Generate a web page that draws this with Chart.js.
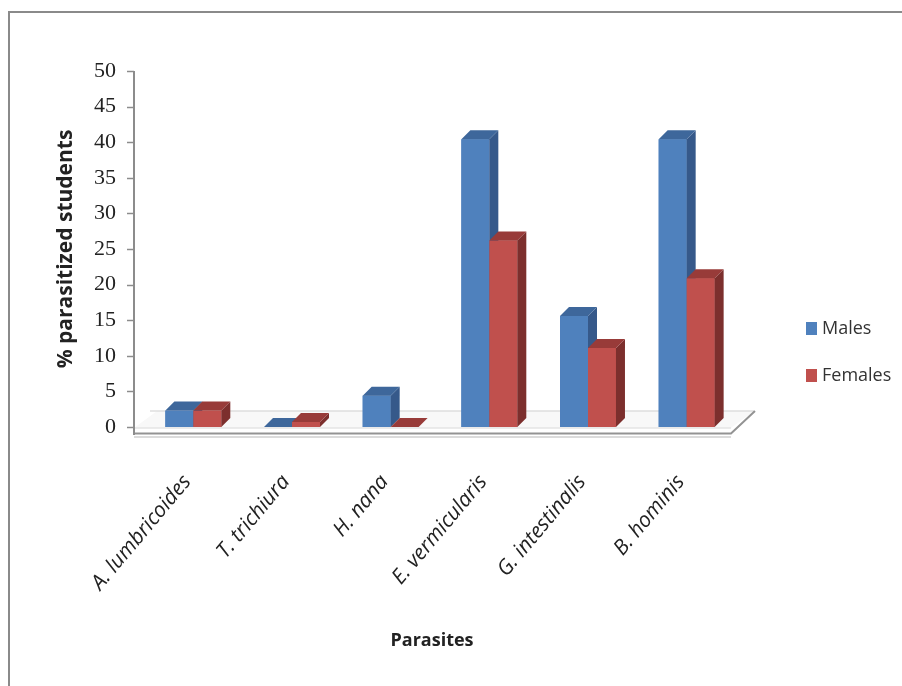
<!DOCTYPE html>
<html>
<head>
<meta charset="utf-8">
<script src="https://cdn.jsdelivr.net/npm/chart.js@4.4.0/dist/chart.umd.min.js"></script>
<style>
  html, body { margin: 0; padding: 0; background: #fff; }
  #wrap { position: relative; width: 902px; height: 686px; overflow: hidden; }
  #frame { position: absolute; left: 8px; top: 11px; width: 900px; height: 680px;
           border-top: 2px solid #8a8a8a; border-left: 2px solid #8a8a8a; box-sizing: border-box; }
  canvas { position: absolute; left: 0; top: 0; }
</style>
</head>
<body>
<div id="wrap">
  <div id="frame"></div>
  <canvas id="c" width="902" height="686"></canvas>
</div>
<script>
const categories = ['A. lumbricoides', 'T. trichiura', 'H. nana', 'E. vermicularis', 'G. intestinalis', 'B. hominis'];
const males = [2.3, 0, 4.4, 40.4, 15.6, 40.4];
const females = [2.3, 0.7, 0, 26.2, 11.1, 20.9];
const yTicksMin = 0, yTicksMax = 50, yTickStep = 5;
const xTitle = 'Parasites';

const faces = {
  Males:   { front: '#4F81BD', side: '#36598A', top: '#3E679B' },
  Females: { front: '#C0504D', side: '#7C2F2D', top: '#983B39' }
};
const DX = 9, DY = 9;

const threeD = {
  id: 'threeD',
  beforeDatasetsDraw(chart) {
    const ctx = chart.ctx, ca = chart.chartArea, y = chart.scales.y;
    const axisX = ca.left - 10;
    const base = y.getPixelForValue(0);
    const fr = ca.right - 5;
    ctx.save();
    ctx.fillStyle = '#f8f8f8';
    ctx.beginPath();
    ctx.moveTo(axisX, base + 1);
    ctx.lineTo(fr, base + 1);
    ctx.lineTo(fr + 23, base - 16);
    ctx.lineTo(axisX + 23, base - 16);
    ctx.closePath();
    ctx.fill();
    ctx.strokeStyle = '#dedede';
    ctx.lineWidth = 1.5;
    ctx.beginPath();
    ctx.moveTo(axisX + 16, base - 16);
    ctx.lineTo(fr + 23, base - 16);
    ctx.stroke();
    ctx.strokeStyle = '#e4e4e4';
    ctx.beginPath();
    ctx.moveTo(axisX, base + 1);
    ctx.lineTo(fr, base + 1);
    ctx.stroke();
    ctx.strokeStyle = '#cfcfcf';
    ctx.lineWidth = 1.5;
    ctx.beginPath();
    ctx.moveTo(axisX, base + 10);
    ctx.lineTo(fr, base + 10);
    ctx.stroke();
    ctx.strokeStyle = '#939393';
    ctx.lineWidth = 2;
    ctx.beginPath();
    ctx.moveTo(axisX, base + 6.5);
    ctx.lineTo(fr, base + 6.5);
    ctx.lineTo(fr + 24, base - 16);
    ctx.stroke();
    ctx.strokeStyle = '#8c8c8c';
    ctx.lineWidth = 2;
    ctx.beginPath();
    ctx.moveTo(axisX, y.getPixelForValue(yTicksMax));
    ctx.lineTo(axisX, base + 8);
    ctx.stroke();
    ctx.lineWidth = 1.5;
    y.ticks.forEach(t => {
      const py = Math.round(y.getPixelForValue(t.value)) + 0.5;
      ctx.beginPath();
      ctx.moveTo(axisX - 7, py);
      ctx.lineTo(axisX, py);
      ctx.stroke();
    });
    ctx.restore();
  },
  afterDatasetsDraw(chart) {
    const ctx = chart.ctx;
    ctx.save();
    chart.data.datasets.forEach((ds, i) => {
      const f = faces[ds.label];
      chart.getDatasetMeta(i).data.forEach(bar => {
        const p = bar.getProps(['x', 'y', 'base', 'width'], true);
        const l = p.x - p.width / 2, r = p.x + p.width / 2;
        ctx.fillStyle = f.front;
        ctx.fillRect(l, p.y, p.width, p.base - p.y);
        ctx.fillStyle = f.side;
        ctx.beginPath();
        ctx.moveTo(r, p.y);
        ctx.lineTo(r + DX, p.y - DY);
        ctx.lineTo(r + DX, p.base - DY);
        ctx.lineTo(r, p.base);
        ctx.closePath();
        ctx.fill();
        ctx.fillStyle = f.top;
        ctx.beginPath();
        ctx.moveTo(l, p.y);
        ctx.lineTo(l + DX, p.y - DY);
        ctx.lineTo(r + DX, p.y - DY);
        ctx.lineTo(r, p.y);
        ctx.closePath();
        ctx.fill();
      });
    });
    ctx.restore();
  },
  afterDraw(chart) {
    const ctx = chart.ctx, ca = chart.chartArea;
    ctx.save();
    ctx.font = '18px "Open Sans", sans-serif';
    ctx.textBaseline = 'middle';
    ctx.textAlign = 'left';
    chart.data.datasets.forEach((ds, i) => {
      const cy = 328 + i * 47;
      ctx.fillStyle = ds.backgroundColor;
      ctx.fillRect(806, cy - 6, 11, 13);
      ctx.fillStyle = '#333';
      ctx.fillText(ds.label, 822, cy + 1);
    });
    ctx.font = 'bold 18px "Open Sans", sans-serif';
    ctx.fillStyle = '#222';
    ctx.textAlign = 'center';
    ctx.fillText(xTitle, (ca.left + ca.right) / 2 - 8, 641);
    ctx.restore();
  }
};

new Chart(document.getElementById('c'), {
  type: 'bar',
  data: {
    labels: categories,
    datasets: [
      { label: 'Males', data: males, backgroundColor: faces.Males.front },
      { label: 'Females', data: females, backgroundColor: faces.Females.front }
    ]
  },
  options: {
    responsive: false,
    animation: false,
    devicePixelRatio: 1,
    layout: { padding: { left: 0, top: 71, right: 166, bottom: 0 } },
    datasets: { bar: { categoryPercentage: 0.567, barPercentage: 1.0, borderWidth: 0 } },
    plugins: { legend: { display: false }, tooltip: { enabled: false } },
    scales: {
      x: {
        grid: { display: false, drawTicks: false, tickLength: 0 },
        border: { display: false },
        ticks: {
          autoSkip: false, maxRotation: 50, minRotation: 50, padding: 43, labelOffset: -6,
          color: '#222', font: { family: '"Open Sans", sans-serif', style: 'italic', size: 21 }
        },
        afterFit: s => { s.height = 259; }
      },
      y: {
        min: yTicksMin, max: yTicksMax,
        grid: { display: false, drawTicks: false },
        border: { display: false },
        ticks: {
          stepSize: yTickStep, padding: 28, color: '#222',
          font: { family: '"Liberation Serif", "Times New Roman", serif', size: 22 }
        },
        title: {
          display: true, text: '% parasitized students', color: '#222',
          font: { family: '"Open Sans", sans-serif', weight: 'bold', size: 21 },
          padding: { top: 53, bottom: 0 }
        },
        afterFit: s => { s.width = 144; }
      }
    }
  },
  plugins: [threeD]
});
</script>
</body>
</html>
